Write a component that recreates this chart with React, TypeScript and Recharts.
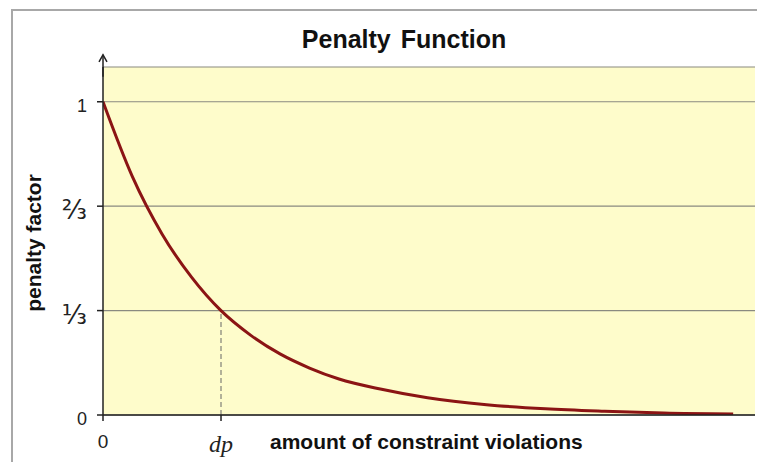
import { LineChart, Line, XAxis, YAxis, CartesianGrid, ReferenceLine } from 'recharts';

// x in units of dp (dp = 1)
const xValues = [0, 0.25, 0.5, 0.75, 1, 1.25, 1.5, 1.75, 2, 2.35, 2.75, 3.25, 3.75, 4.25, 4.75, 5.34];
const penalty = [1, 0.76, 0.578, 0.44, 0.333, 0.255, 0.195, 0.15, 0.115, 0.083, 0.055, 0.033, 0.02, 0.012, 0.006, 0.003];
const yTicks = [0, 1 / 3, 2 / 3, 1];
const yTickLabels = ['0', '⅓', '⅔', '1'];
const xTicks = [0, 1];
const xTickLabels = ['0', 'dp'];

const data = xValues.map((x, i) => ({ x, y: penalty[i] }));

const SANS = '"Liberation Sans", Arial, sans-serif';

function YTick({ x, y, index }: any) {
  const frac = index === 1 || index === 2;
  return (
    <text
      x={x - 8}
      y={y + 4}
      dy="0.35em"
      textAnchor="end"
      fontFamily={frac ? '"DejaVu Sans", sans-serif' : SANS}
      fontSize={frac ? 26 : 18}
      fill="#222"
    >
      {yTickLabels[index]}
    </text>
  );
}

function XTick({ x, y, index }: any) {
  if (index === 1) {
    return (
      <text x={x} y={y + 29} textAnchor="middle" fontFamily='"Liberation Serif", serif' fontStyle="italic" fontSize={24} fill="#222">
        {xTickLabels[index]}
      </text>
    );
  }
  return (
    <text x={x} y={y + 25} textAnchor="middle" fontFamily={SANS} fontSize={19} fill="#222">
      {xTickLabels[index]}
    </text>
  );
}

function ArrowLine({ x1, y1, x2, y2 }: any) {
  return (
    <g>
      <line x1={x1} y1={y1} x2={x2} y2={y2} stroke="#222" strokeWidth={1.5} />
      <path d={`M${x2 - 4},${y2 + 7} L${x2},${y2} L${x2 + 4},${y2 + 7}`} fill="none" stroke="#222" strokeWidth={1.5} />
    </g>
  );
}

export default function App() {
  return (
    <div style={{ position: 'absolute', left: 0, top: 0, width: 757, height: 462, background: '#fff', overflow: 'hidden' }}>
      <div style={{ position: 'absolute', left: 11, top: 9, width: 760, height: 470, border: '2px solid #a8a8a8', boxSizing: 'border-box' }} />
      <svg width={757} height={60} style={{ position: 'absolute', left: 0, top: 0 }}>
        <text x={404} y={48} textAnchor="middle" fontFamily={SANS} fontWeight="bold" fontSize={25} fill="#111" wordSpacing={3}>
          Penalty Function
        </text>
      </svg>
      <div style={{ position: 'absolute', left: 0, top: 0 }}>
        <LineChart width={757} height={462} data={data} margin={{ top: 67, right: 2, bottom: 0, left: 0 }}>
          <CartesianGrid fill="#fefccb" vertical={false} stroke="#8a8a80" strokeWidth={1.2} />
          <XAxis
            type="number"
            dataKey="x"
            domain={[0, 5.525]}
            allowDataOverflow
            ticks={xTicks}
            height={47}
            tick={<XTick />}
            tickSize={6}
            axisLine={{ stroke: '#222', strokeWidth: 1.5 }}
            tickLine={{ stroke: '#222', strokeWidth: 1.5 }}
            label={{
              content: () => (
                <text x={270} y={449} fontFamily={SANS} fontWeight="bold" fontSize={21} fill="#111">
                  amount of constraint violations
                </text>
              ),
            }}
          />
          <YAxis
            type="number"
            domain={[0, 1.111]}
            allowDataOverflow
            ticks={yTicks}
            width={103}
            tick={<YTick />}
            tickSize={6}
            axisLine={{ stroke: '#222', strokeWidth: 1.5 }}
            tickLine={{ stroke: '#222', strokeWidth: 1.5 }}
            label={{
              content: () => (
                <text x={41} y={243} transform="rotate(-90 41 243)" textAnchor="middle" fontFamily={SANS} fontWeight="bold" fontSize={21} fill="#111">
                  penalty factor
                </text>
              ),
            }}
          />
          <ReferenceLine
            segment={[{ x: 0, y: 1.08 }, { x: 0, y: 1.15 }]}
            ifOverflow="visible"
            shape={<ArrowLine />}
          />
          <ReferenceLine
            segment={[{ x: 1, y: 0 }, { x: 1, y: 1 / 3 }]}
            stroke="#666"
            strokeDasharray="5 3"
            strokeWidth={1}
          />
          <Line
            type="monotone"
            dataKey="y"
            stroke="#8b1414"
            strokeWidth={3}
            dot={false}
            isAnimationActive={false}
          />
        </LineChart>
      </div>
    </div>
  );
}
